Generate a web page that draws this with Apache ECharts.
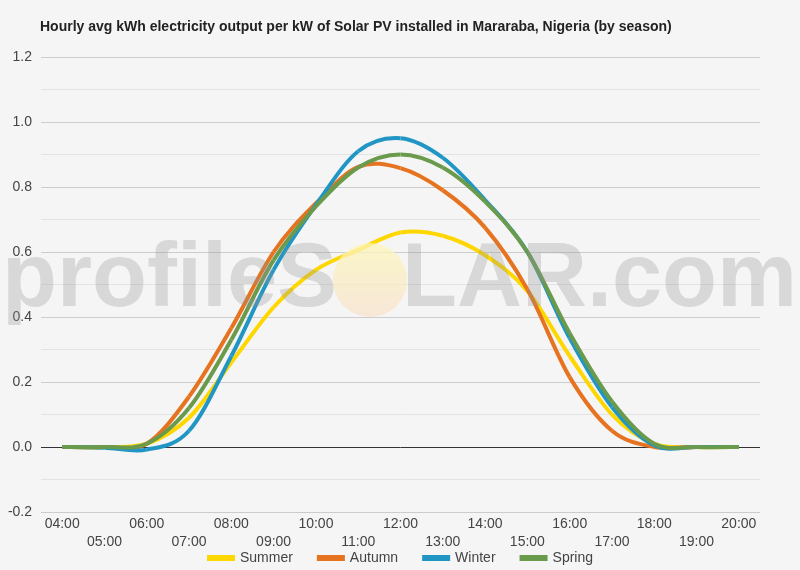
<!DOCTYPE html>
<html>
<head>
<meta charset="utf-8">
<script src="https://cdn.jsdelivr.net/npm/echarts@6/dist/echarts.min.js"></script>
<style>
html,body{margin:0;padding:0;background:#f5f5f5;}
#chart{width:800px;height:570px;}
</style>
</head>
<body>
<div id="chart"></div>
<script>
var hours = ['04:00','05:00','06:00','07:00','08:00','09:00','10:00','11:00','12:00','13:00','14:00','15:00','16:00','17:00','18:00','19:00','20:00'];
var summer = [0, 0, 0.01, 0.09, 0.26, 0.43, 0.545, 0.606, 0.66, 0.65, 0.59, 0.48, 0.28, 0.10, 0.01, 0, 0];
var autumn = [0, 0, 0.01, 0.155, 0.366, 0.6, 0.75, 0.862, 0.858, 0.79, 0.675, 0.485, 0.215, 0.05, 0.0, 0, 0];
var winter = [0, -0.002, -0.008, 0.05, 0.28, 0.545, 0.745, 0.91, 0.95, 0.89, 0.76, 0.6, 0.335, 0.123, 0.005, 0, 0];
var spring = [0, 0, 0.01, 0.12, 0.33, 0.575, 0.74, 0.86, 0.90, 0.86, 0.755, 0.6, 0.35, 0.14, 0.01, 0, 0];
var seriesNames = ['Summer','Autumn','Winter','Spring'];
var seriesColors = ['#ffd700','#e6731f','#2196c4','#6a9a4c'];
var yTicks = {min: -0.2, max: 1.2, interval: 0.2};

var chart = echarts.init(document.getElementById('chart'));
var dataSets = [summer, autumn, winter, spring];

function makeRender(vals, color) {
  return function (params, api) {
    var i = params.dataIndex;
    if (i >= vals.length - 1) return null;
    var P = function (k) {
      k = Math.max(0, Math.min(vals.length - 1, k));
      return api.coord([k, vals[k]]);
    };
    var p0 = P(i - 1), p1 = P(i), p2 = P(i + 1), p3 = P(i + 2);
    var t = 6;
    return {
      type: 'bezierCurve',
      shape: {
        x1: p1[0], y1: p1[1], x2: p2[0], y2: p2[1],
        cpx1: p1[0] + (p2[0] - p0[0]) / t, cpy1: p1[1] + (p2[1] - p0[1]) / t,
        cpx2: p2[0] - (p3[0] - p1[0]) / t, cpy2: p2[1] - (p3[1] - p1[1]) / t
      },
      style: {stroke: color, lineWidth: 4, fill: null, lineCap: 'butt'}
    };
  };
}

var series = dataSets.map(function (d, i) {
  return {
    name: seriesNames[i],
    type: 'custom',
    data: d.map(function (v, k) { return [k, v]; }),
    encode: {x: 0, y: 1},
    renderItem: makeRender(d, seriesColors[i]),
    itemStyle: {color: seriesColors[i]},
    silent: true,
    z: 2 + i
  };
});
var splitColors = ['#cccccc','#333333','#cccccc','#cccccc','#cccccc','#cccccc','#cccccc','#cccccc'];

chart.setOption({
  backgroundColor: '#f5f5f5',
  animation: false,
  textStyle: {fontFamily: 'Liberation Sans, Arial, sans-serif'},
  title: {
    text: 'Hourly avg kWh electricity output per kW of Solar PV installed in Mararaba, Nigeria (by season)',
    left: 35, top: 15,
    textStyle: {fontSize: 14, fontWeight: 'bold', color: '#222', fontFamily: 'Liberation Sans, Arial, sans-serif'}
  },
  legend: {
    bottom: 0, left: 'center',
    icon: 'rect', itemWidth: 28, itemHeight: 6, itemGap: 24,
    textStyle: {fontSize: 14, color: '#444'},
    data: seriesNames
  },
  grid: {left: 41, right: 40, top: 57, bottom: 58, containLabel: false},
  xAxis: {
    type: 'category',
    data: hours,
    boundaryGap: true,
    axisLine: {show: false},
    axisTick: {show: false},
    splitLine: {show: false},
    axisLabel: {
      interval: 0, margin: 3, color: '#444', fontSize: 14, lineHeight: 18,
      formatter: function (v, i) { return i % 2 ? '\n' + v : v; }
    }
  },
  yAxis: {
    type: 'value',
    min: yTicks.min, max: yTicks.max, interval: yTicks.interval,
    axisLine: {show: false},
    axisTick: {show: false},
    axisLabel: {color: '#444', fontSize: 14, margin: 9, formatter: function (v) { return v.toFixed(1); }},
    splitLine: {show: true, lineStyle: {color: splitColors, width: 1}},
    minorTick: {show: false, splitNumber: 2},
    minorSplitLine: {show: true, lineStyle: {color: '#e3e3e3', width: 1}}
  },
  graphic: [
    {
      type: 'text', z: 100, left: 2, top: 236, silent: true,
      style: {text: 'profileS', font: 'bold 90px "Liberation Sans", Arial, sans-serif', fill: 'rgba(150,150,150,0.3)'}
    },
    {
      type: 'circle', z: 99, silent: true,
      shape: {cx: 370, cy: 280, r: 37},
      style: {
        fill: new echarts.graphic.LinearGradient(0, 0, 0, 1, [
          {offset: 0, color: 'rgba(253,246,185,0.75)'},
          {offset: 1, color: 'rgba(248,226,205,0.75)'}
        ])
      }
    },
    {
      type: 'text', z: 100, left: 402, top: 236, silent: true,
      style: {text: 'LAR.com', font: 'bold 90px "Liberation Sans", Arial, sans-serif', fill: 'rgba(150,150,150,0.3)'}
    }
  ],
  series: series
});
</script>
</body>
</html>
